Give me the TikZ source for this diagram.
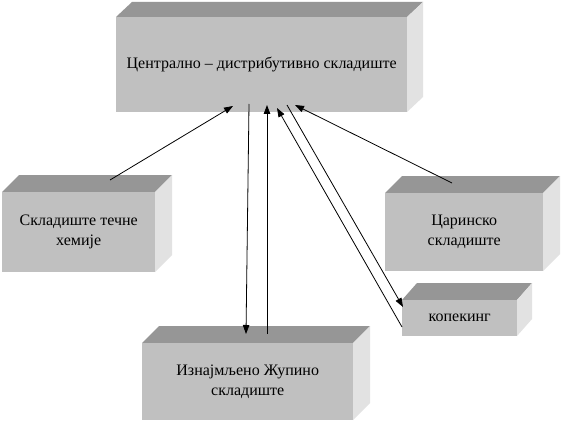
\documentclass[tikz,border=0pt]{standalone}
\usepackage{fontspec}
\setmainfont{Liberation Serif}
\usetikzlibrary{arrows.meta}
\definecolor{frontgray}{RGB}{192,192,192}
\definecolor{topgray}{RGB}{150,150,150}
\definecolor{sidegray}{RGB}{226,226,226}
\tikzset{
  front/.style={fill=frontgray, draw=none, inner sep=0pt, align=center,
    font=\fontsize{16}{20}\selectfont, anchor=north west},
  topface/.style={fill=topgray, draw=none},
  sideface/.style={fill=sidegray, draw=none},
  conn/.style={draw=black, line width=0.8pt},
  tip/.style={-{Triangle[length=9pt,width=6.5pt]}}
}
% #1 name, #2 x, #3 y (top-left of front), #4 width, #5 height, #6 depth x, #7 depth y, #8 text
\newcommand{\boxthreed}[8]{%
  \fill[topface] (#2,#3) -- ++(#6,-#7) -- ++(#4,0) -- ++(-#6,#7) -- cycle;
  \fill[sideface] (#2+#4,#3) -- ++(#6,-#7) -- ++(0,#5) -- ++(-#6,#7) -- cycle;
  \node[front, minimum width=#4pt, minimum height=#5pt] (#1) at (#2,#3) {#8};
}
\begin{document}
\begin{tikzpicture}[x=1pt,y=-1pt]
\fill[white] (0,0) rectangle (578,433);
\useasboundingbox (0,0) rectangle (578,433);

\boxthreed{central}{116}{17}{291}{95}{16}{15}{Централно – дистрибутивно складиште}
\boxthreed{hemija}{2}{192}{153}{80}{17}{17}{Складиште течне\\хемије}
\boxthreed{carinsko}{385}{193}{158}{78}{17}{17}{Царинско\\складиште}
\boxthreed{kopeking}{402}{300}{115}{36}{15}{17}{копекинг}
\boxthreed{zupino}{142}{343}{211}{77}{17}{17}{Изнајмљено Жупино\\складиште}

% connector end points
\coordinate (cA) at (233,106);
\coordinate (cB) at (249,104);
\coordinate (cC) at (267,105);
\coordinate (cD) at (277,108);
\coordinate (cE) at (287,105);
\coordinate (cF) at (295,105);
\coordinate (hA) at (110,180);
\coordinate (zB) at (246,334);
\coordinate (zC) at (267,334);
\coordinate (kD) at (402,327);
\coordinate (kE) at (403,307);
\coordinate (rF) at (452,183);

\draw[conn,tip] (hA) -- (cA);
\draw[conn,tip] (cB) -- (zB);
\draw[conn,tip] (zC) -- (cC);
\draw[conn,tip] (kD) -- (cD);
\draw[conn,tip] (cE) -- (kE);
\draw[conn,tip] (rF) -- (cF);
\end{tikzpicture}
\end{document}
